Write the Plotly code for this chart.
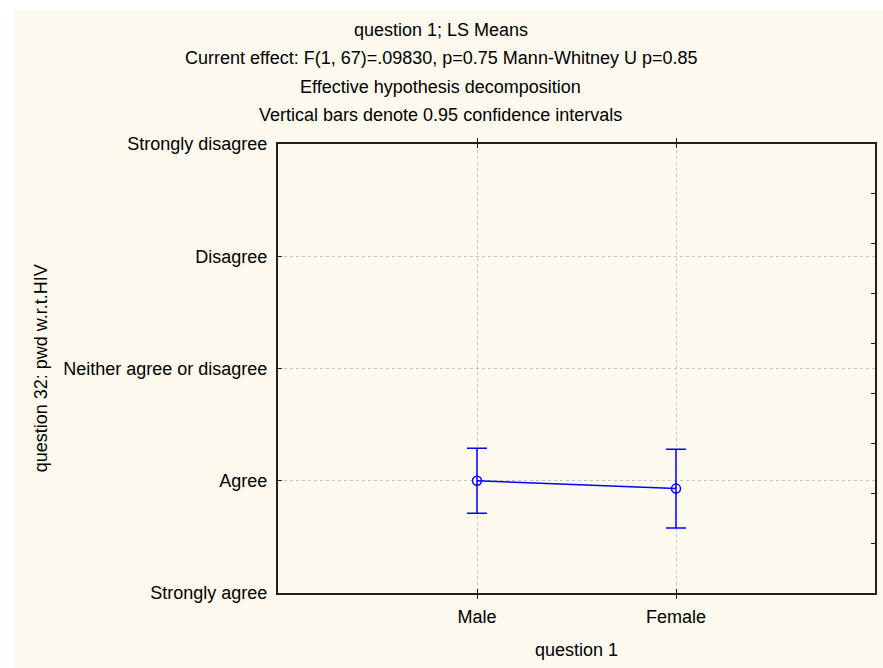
import plotly.graph_objects as go

# ---- data ----
categories = ["Male", "Female"]
means = [2.00, 1.93]
upper = [2.29, 2.28]
lower = [1.71, 1.58]
y_tick_vals = [1, 2, 3, 4, 5]
y_tick_text = ["Strongly agree", "Agree", "Neither agree or disagree", "Disagree", "Strongly disagree"]
title_lines = [
    "question 1; LS Means",
    "Current effect: F(1, 67)=.09830, p=0.75 Mann-Whitney U p=0.85",
    "Effective hypothesis decomposition",
    "Vertical bars denote 0.95 confidence intervals",
]
x_title = "question 1"
y_title = "question 32: pwd w.r.t.HIV"

# ---- layout geometry (window pixels) ----
W, H = 883, 668
L, R, T, B = 278, 877, 144, 593
PW, PH = R - L, B - T

def px_x(p):
    return (p - L) / PW

def px_y(p):
    return (B - p) / PH

FONT = "Liberation Sans, Arial, sans-serif"
FS = 18
CREAM = "#FDF9EE"
BLUE = "#0000FF"
AX = "#202020"

err_plus = [u - m for u, m in zip(upper, means)]
err_minus = [m - l for m, l in zip(means, lower)]

fig = go.Figure()
fig.add_trace(go.Scatter(
    x=categories, y=means, mode="lines+markers",
    line=dict(color=BLUE, width=1.5),
    marker=dict(symbol="circle-open", size=9, color=BLUE, line=dict(width=1.5, color=BLUE)),
    error_y=dict(type="data", array=err_plus, arrayminus=err_minus,
                 width=10, thickness=1.5, color=BLUE),
    showlegend=False,
))
# invisible trace for right-side minor tick axis
fig.add_trace(go.Scatter(x=categories, y=[0, 0], yaxis="y2", mode="none",
                         showlegend=False, hoverinfo="skip"))

annotations = []
title_y_px = [30, 58, 87, 115]
for txt, yp in zip(title_lines, title_y_px):
    annotations.append(dict(text=txt, xref="paper", yref="paper",
                            x=px_x(441.5), y=px_y(yp), xanchor="center", yanchor="middle",
                            showarrow=False, font=dict(family=FONT, size=FS, color="black")))
annotations.append(dict(text=x_title, xref="paper", yref="paper",
                        x=0.5, y=px_y(650), xanchor="center", yanchor="middle",
                        showarrow=False, font=dict(family=FONT, size=FS, color="black")))
annotations.append(dict(text=y_title, xref="paper", yref="paper", textangle=-90,
                        x=px_x(40), y=0.5, xanchor="center", yanchor="middle",
                        showarrow=False, font=dict(family=FONT, size=FS, color="black")))

fig.update_layout(
    width=W, height=H,
    margin=dict(l=L, r=W - R, t=T, b=H - B, pad=0),
    paper_bgcolor="white",
    plot_bgcolor="white",
    font=dict(family=FONT, size=FS, color="black"),
    annotations=annotations,
    shapes=[dict(type="rect", xref="paper", yref="paper", layer="below",
                 x0=px_x(13), x1=px_x(900), y0=px_y(10), y1=px_y(700),
                 fillcolor=CREAM, line=dict(width=0))],
    xaxis=dict(
        type="category", range=[-1, 2],
        showline=True, linecolor=AX, linewidth=2, mirror="allticks",
        ticks="inside", ticklen=4, tickwidth=1, tickcolor=AX,
        showgrid=True, gridcolor="#C4C4C4", griddash="dot", gridwidth=1,
        zeroline=False, tickfont=dict(size=FS), ticklabelstandoff=6,
    ),
    yaxis=dict(
        range=[1, 5], tickvals=y_tick_vals, ticktext=y_tick_text,
        showline=True, linecolor=AX, linewidth=2, mirror=True,
        ticks="inside", ticklen=4, tickwidth=1, tickcolor=AX,
        showgrid=True, gridcolor="#C4C4C4", griddash="dot", gridwidth=1,
        zeroline=False, tickfont=dict(size=FS), ticklabelstandoff=5,
    ),
    yaxis2=dict(
        overlaying="y", side="right", range=[0, 9], dtick=1, tick0=0,
        ticks="inside", ticklen=4, tickwidth=1, tickcolor=AX,
        showticklabels=False, showgrid=False, zeroline=False,
        showline=True, linecolor=AX, linewidth=2,
    ),
)

fig.write_html("out.html", config={"displayModeBar": False},
               post_script="document.body.style.margin='0';document.body.style.overflow='hidden';")
